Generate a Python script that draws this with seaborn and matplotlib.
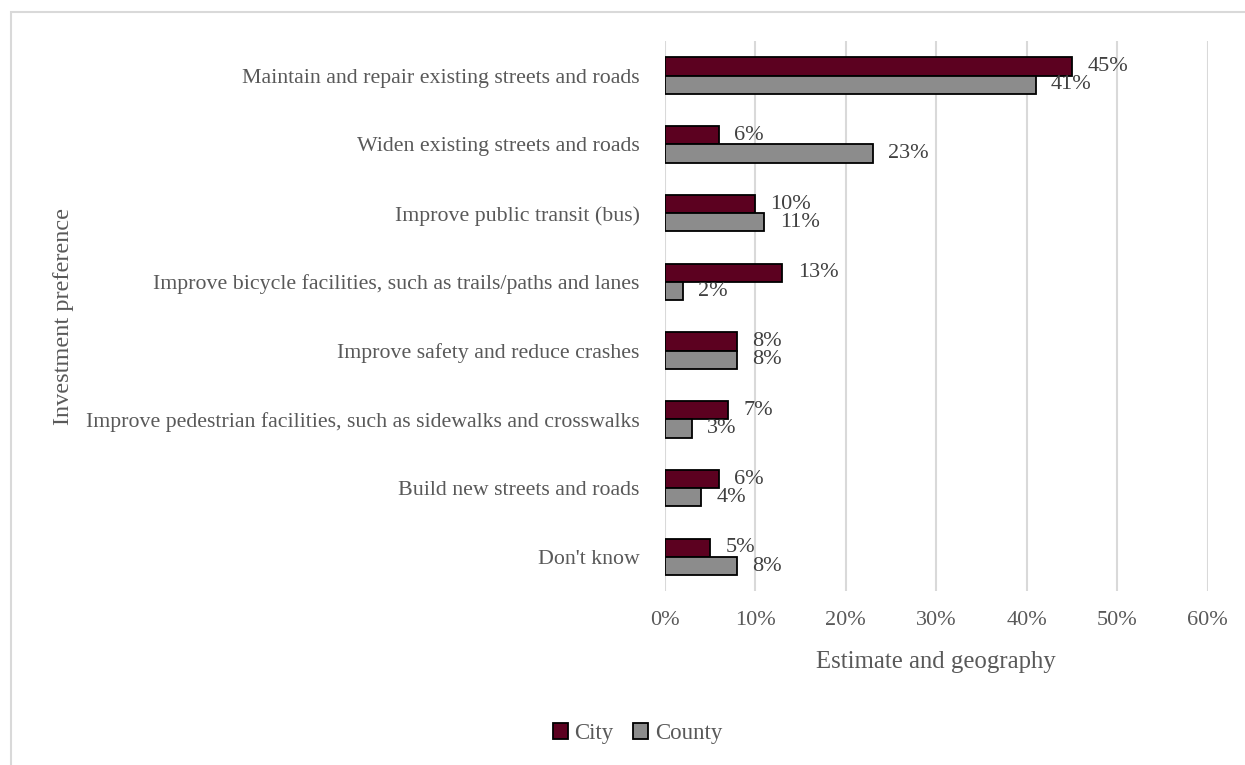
import matplotlib
matplotlib.use("Agg")
import matplotlib.pyplot as plt
from matplotlib.patches import Rectangle
import seaborn as sns
import pandas as pd

categories = [
    "Maintain and repair existing streets and roads",
    "Widen existing streets and roads",
    "Improve public transit (bus)",
    "Improve bicycle facilities, such as trails/paths and lanes",
    "Improve safety and reduce crashes",
    "Improve pedestrian facilities, such as sidewalks and crosswalks",
    "Build new streets and roads",
    "Don't know",
]
city = [45, 6, 10, 13, 8, 7, 6, 5]
county = [41, 23, 11, 2, 8, 3, 4, 8]
series = ["City", "County"]
colors = ["#5C0120", "#8C8C8C"]
x_ticks = [0, 10, 20, 30, 40, 50, 60]

df = pd.DataFrame({
    "Investment preference": categories * 2,
    "value": city + county,
    "geo": ["City"] * len(categories) + ["County"] * len(categories),
})

sns.set_theme(style="white")
plt.rcParams["font.family"] = ["Liberation Serif", "DejaVu Serif"]
text_color = "#595959"

fig = plt.figure(figsize=(12.45, 7.65), dpi=100)
ax = fig.add_axes([0.534, 0.227, 0.436, 0.719])

sns.barplot(
    data=df, y="Investment preference", x="value", hue="geo",
    hue_order=series, order=categories, palette=colors, orient="h",
    width=0.53, edgecolor="black", linewidth=1.3, saturation=1,
    dodge=True, legend=True, ax=ax,
)

for container in ax.containers:
    ax.bar_label(container, labels=[f"{v:.0f}%" for v in container.datavalues],
                 padding=11, fontsize=16, color="#404040")

ax.set_xlim(0, 60)
ax.set_ylim(len(categories) - 0.5, -0.5)
ax.set_xticks(x_ticks)
ax.set_xticklabels([f"{t}%" for t in x_ticks])
ax.grid(axis="x", color="#D9D9D9", linewidth=1.5)
ax.set_axisbelow(True)
for s in ax.spines.values():
    s.set_visible(False)
ax.tick_params(axis="x", length=0, pad=14, labelsize=16, labelcolor=text_color)
ax.tick_params(axis="y", length=0, pad=18, labelsize=15.75, labelcolor=text_color)

ax.set_xlabel("Estimate and geography", fontsize=17.8, color=text_color)
ax.xaxis.set_label_coords(0.5, -0.109)
ax.set_ylabel("Investment preference", fontsize=17.5, color=text_color)
ax.yaxis.set_label_coords(-1.088, 0.5)

ax.legend_.remove()
handles = [Rectangle((0, 0), 1, 1, facecolor=c, edgecolor="black", linewidth=1.3) for c in colors]
fig.legend(handles, series, loc="center", bbox_to_anchor=(0.512, 0.041), ncol=2,
           frameon=False, fontsize=16.5, handlelength=0.65, handleheight=0.65,
           handletextpad=0.3, columnspacing=0.85, labelcolor=text_color)

fig.add_artist(Rectangle((11 / 1245, -0.05), 2, 1 - 12 / 765 + 0.05,
                         transform=fig.transFigure, fill=False,
                         edgecolor="#D9D9D9", linewidth=1.5))

fig.savefig("out.png", dpi=100, facecolor="white")
